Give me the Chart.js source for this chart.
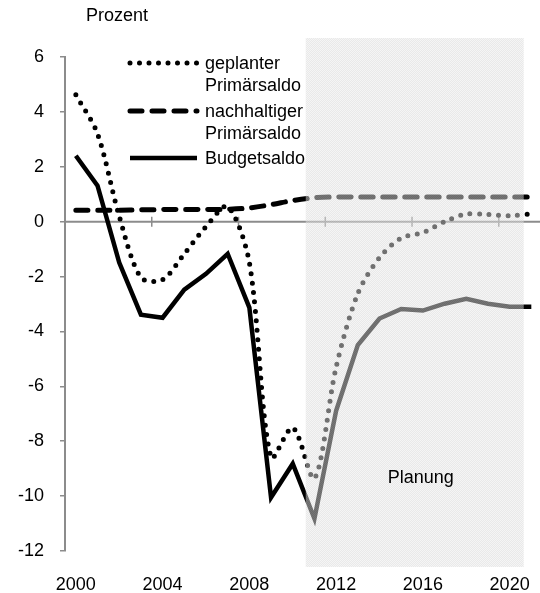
<!DOCTYPE html>
<html>
<head>
<meta charset="utf-8">
<script src="https://cdn.jsdelivr.net/npm/chart.js@4.4.1/dist/chart.umd.min.js"></script>
<style>
  html, body { margin: 0; padding: 0; background: #fff; }
  canvas { display: block; }
</style>
</head>
<body>
<canvas id="chart" width="540" height="593"></canvas>
<script>
// --- data ---
const years = [2000, 2001, 2002, 2003, 2004, 2005, 2006, 2007, 2008, 2009, 2010,
               2011, 2012, 2013, 2014, 2015, 2016, 2017, 2018, 2019, 2020, 2021];
const geplanterPrimaersaldo = [4.62, 3.2, 0.2, -2.04, -2.11, -1.17, -0.18, 0.55, -1.49, -8.6, -7.5,
                               -9.36, -5.3, -2.62, -1.31, -0.6, -0.4, 0.0, 0.28, 0.26, 0.22, 0.28];
const nachhaltigerPrimaersaldo = [0.42, 0.42, 0.42, 0.43, 0.44, 0.44, 0.44, 0.45, 0.5, 0.62, 0.77,
                                  0.87, 0.9, 0.9, 0.9, 0.9, 0.9, 0.9, 0.9, 0.9, 0.9, 0.9];
const budgetsaldo = [2.4, 1.31, -1.49, -3.39, -3.5, -2.48, -1.9, -1.17, -3.13, -10.05, -8.82,
                     -10.82, -6.89, -4.5, -3.53, -3.18, -3.24, -2.99, -2.81, -2.99, -3.1, -3.1];

const xTickYears = [2000, 2004, 2008, 2012, 2016, 2020];
const xDividers = [2003.5, 2007.5, 2011.5, 2015.5, 2019.5];
const planFrom = 2010.6, planTo = 2020.65;

const FONT = '"Liberation Sans", Arial, sans-serif';
const AXIS_GREY = '#8c8c8c';

const toPoints = arr => years.map((x, i) => ({ x, y: arr[i] }));

const series = [
    { label: ['geplanter', 'Primärsaldo'], data: geplanterPrimaersaldo,
      width: 5, dash: [0, 9.5], cap: 'round', tension: 0.3 },
    { label: ['nachhaltiger', 'Primärsaldo'], data: nachhaltigerPrimaersaldo,
      width: 5, dash: [12, 10], cap: 'round', tension: 0.3 },
    { label: ['Budgetsaldo'], data: budgetsaldo,
      width: 4.5, dash: [], cap: 'butt', tension: 0 }
];

// zero line with the category tick marks on it
const zeroAxis = {
    id: 'zeroAxis',
    beforeDatasetsDraw(chart) {
        const { ctx, chartArea: a, scales: { x, y } } = chart;
        const y0 = y.getPixelForValue(0);
        ctx.save();
        ctx.strokeStyle = AXIS_GREY;
        ctx.lineWidth = 2;
        ctx.beginPath();
        ctx.moveTo(a.left, y0);
        ctx.lineTo(a.right, y0);
        ctx.stroke();
        ctx.lineWidth = 1.5;
        ctx.beginPath();
        xDividers.forEach(v => {
            const px = x.getPixelForValue(v);
            ctx.moveTo(px, y0 - 5);
            ctx.lineTo(px, y0 + 5);
        });
        ctx.stroke();
        ctx.restore();
    }
};

function makePattern(ctx) {
    const c = document.createElement('canvas');
    c.width = 2; c.height = 2;
    const p = c.getContext('2d');
    const img = p.createImageData(2, 2);
    const px = [236, 212, 212, 236];
    px.forEach((v, i) => {
        img.data[i * 4] = v; img.data[i * 4 + 1] = v; img.data[i * 4 + 2] = v;
        img.data[i * 4 + 3] = 128;
    });
    p.putImageData(img, 0, 0);
    return ctx.createPattern(c, 'repeat');
}

// "Planung" shaded box lies on top of the lines
const planBox = {
    id: 'planBox',
    afterDatasetsDraw(chart) {
        const { ctx, scales: { x, y } } = chart;
        const left = x.getPixelForValue(planFrom);
        const right = x.getPixelForValue(planTo);
        const top = y.getPixelForValue(6) - 19;
        const bottom = y.getPixelForValue(-12) + 16;
        ctx.save();
        ctx.fillStyle = makePattern(ctx);
        ctx.fillRect(left, top, right - left, bottom - top);
        ctx.fillStyle = '#000';
        ctx.font = '18px ' + FONT;
        ctx.textAlign = 'center';
        ctx.textBaseline = 'middle';
        ctx.fillText('Planung', (left + right) / 2 + 6, y.getPixelForValue(-9.35));
        ctx.restore();
    }
};

const legendAndTitle = {
    id: 'legendAndTitle',
    afterDraw(chart) {
        const { ctx } = chart;
        ctx.save();
        ctx.font = '18px ' + FONT;
        ctx.fillStyle = '#000';
        ctx.textBaseline = 'middle';
        ctx.fillText('Prozent', 86, 16);

        const rows = [63, 111, 158];
        series.forEach((s, i) => {
            const yy = rows[i];
            ctx.strokeStyle = '#000';
            ctx.lineWidth = s.width;
            ctx.lineCap = s.cap;
            ctx.setLineDash(s.dash);
            ctx.beginPath();
            ctx.moveTo(130, yy);
            ctx.lineTo(197, yy);
            ctx.stroke();
            ctx.setLineDash([]);
            s.label.forEach((t, j) => ctx.fillText(t, 205, yy + 1 + j * 22));
        });
        ctx.restore();
    }
};

new Chart(document.getElementById('chart'), {
    type: 'line',
    data: {
        datasets: series.map(s => ({
            label: s.label.join(' '),
            data: toPoints(s.data),
            borderColor: '#000',
            borderWidth: s.width,
            borderDash: s.dash,
            borderCapStyle: s.cap,
            borderJoinStyle: 'miter',
            tension: s.tension,
            pointRadius: 0,
            fill: false
        }))
    },
    options: {
        responsive: false,
        animation: false,
        layout: { padding: { top: 57, left: 0, right: 0, bottom: 0 } },
        plugins: {
            legend: { display: false },
            tooltip: { enabled: false }
        },
        scales: {
            x: {
                type: 'linear',
                min: 1999.5,
                max: 2021.4,
                border: { display: false },
                grid: { display: false, drawTicks: false },
                afterBuildTicks: s => { s.ticks = xTickYears.map(v => ({ value: v })); },
                afterFit: s => {
                    s.height = 42;
                    s.paddingLeft = 0;
                    s.paddingRight = 0;
                },
                ticks: {
                    autoSkip: false,
                    maxRotation: 0,
                    padding: 23,
                    color: '#000',
                    font: { family: FONT, size: 18 },
                    callback: v => String(v)
                }
            },
            y: {
                min: -12,
                max: 6,
                afterFit: s => {
                    s.width = 65;
                    s.paddingTop = 0;
                    s.paddingBottom = 0;
                },
                border: { display: true, color: AXIS_GREY, width: 2 },
                grid: { drawOnChartArea: false, drawTicks: true, tickLength: 5, color: AXIS_GREY, lineWidth: 1.5 },
                ticks: {
                    stepSize: 2,
                    padding: 16,
                    color: '#000',
                    font: { family: FONT, size: 18 }
                }
            }
        }
    },
    plugins: [zeroAxis, planBox, legendAndTitle]
});
</script>
</body>
</html>
